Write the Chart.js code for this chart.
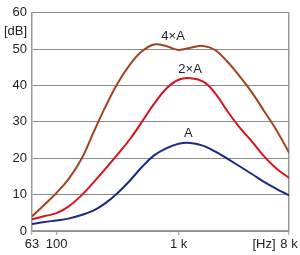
<!DOCTYPE html>
<html>
<head>
<meta charset="utf-8">
<script src="https://cdn.jsdelivr.net/npm/chart.js@4/dist/chart.umd.min.js"></script>
<style>
    html, body { margin: 0; padding: 0; background: #fff; }
    #wrap { width: 300px; height: 255px; }
</style>
</head>
<body>
<div id="wrap"><canvas id="levelChart"></canvas></div>
<script>
// Third-octave band centre frequencies [Hz]
const freqs = [63, 80, 100, 125, 160, 200, 250, 315, 400, 500, 630, 800,
               1000, 1250, 1600, 2000, 2500, 3150, 4000, 5000, 6300, 8000];

// Levels [dB]
const level4xA = [4, 7.3, 10.5, 14.2, 19.8, 27, 34, 40.5, 45.8, 49.4, 51.3, 50.8,
                  49.8, 50.4, 50.9, 49.7, 46.6, 42.6, 38, 33, 27.8, 21.6];
const level2xA = [3.2, 4.1, 4.9, 6.7, 9.8, 13.3, 17, 21, 25.3, 30, 35, 39.3,
                  41.6, 42, 41, 37.8, 33, 28.5, 24.5, 20.5, 17.2, 14.6];
const levelA = [1.9, 2.5, 2.9, 3.4, 4.4, 5.6, 7.6, 10.4, 13.9, 17.6, 20.8, 22.8,
                24, 24.2, 23.4, 21.8, 19.9, 17.8, 15.6, 13.5, 11.6, 9.8];

// Axis ticks ("[Hz]" sits on its own tick just left of 8 k)
const xTicks = [63, 100, 1000, 5000, 8000];
const xTickLabels = ['63', '100', '1 k', '[Hz]', '8 k'];
const yTicks = [0, 10, 20, 30, 40, 50, 55, 60];
const yTickLabels = ['0', '10', '20', '30', '40', '50', '[dB]', '60'];

// Curve names and where they sit
const curveNames = ['4\u00d7A', '2\u00d7A', 'A'];
const nameFreqs = [900, 1240, 1200];
const nameLevels = [53.5, 44.3, 26.8];

const FONT = "'Liberation Sans Narrow', 'Arial Narrow', 'Liberation Sans', sans-serif";
const GRID = '#8a8a8a';

function toPoints(values) {
    return freqs.map((f, i) => ({ x: f, y: values[i] }));
}

// Draws the curve names inside the plot
const curveNamePlugin = {
    id: 'curveNames',
    afterDatasetsDraw(chart) {
        const ctx = chart.ctx;
        const xs = chart.scales.x;
        const ys = chart.scales.y;
        ctx.save();
        ctx.font = '13px ' + FONT;
        ctx.fillStyle = '#222';
        ctx.textAlign = 'center';
        ctx.textBaseline = 'middle';
        curveNames.forEach((name, i) => {
            ctx.fillText(name, xs.getPixelForValue(nameFreqs[i]), ys.getPixelForValue(nameLevels[i]));
        });
        ctx.restore();
    }
};

const ctx = document.getElementById('levelChart').getContext('2d');
new Chart(ctx, {
    type: 'line',
    data: {
        datasets: [
            { data: toPoints(level4xA), borderColor: '#a3421f' },
            { data: toPoints(level2xA), borderColor: '#d9121c' },
            { data: toPoints(levelA), borderColor: '#1b2a86' }
        ]
    },
    options: {
        responsive: true,
        maintainAspectRatio: false,
        animation: false,
        layout: { padding: { top: 9, right: 11, bottom: 0, left: 0 } },
        elements: {
            line: { borderWidth: 2, tension: 0.4, fill: false },
            point: { radius: 0 }
        },
        plugins: {
            legend: { display: false },
            tooltip: { enabled: false }
        },
        scales: {
            x: {
                type: 'logarithmic',
                min: 63,
                max: 8000,
                afterBuildTicks: axis => { axis.ticks = xTicks.map(v => ({ value: v })); },
                afterFit: axis => { axis.height = 24; },
                ticks: {
                    autoSkip: false,
                    maxRotation: 0,
                    padding: 2,
                    color: '#222',
                    font: { family: FONT, size: 13 },
                    callback: (value, index) => xTickLabels[index]
                },
                grid: {
                    drawOnChartArea: true,
                    tickLength: 4,
                    color: c => (c.tick && c.tick.value === 8000) ? '#999' : 'rgba(0,0,0,0)',
                    lineWidth: 1.5,
                    tickColor: c => (c.tick && c.tick.value === 5000) ? 'rgba(0,0,0,0)' : '#999',
                    tickWidth: 1
                },
                border: { color: '#999', width: 1.5 }
            },
            y: {
                min: 0,
                max: 60,
                afterBuildTicks: axis => { axis.ticks = yTicks.map(v => ({ value: v })); },
                afterFit: axis => { axis.width = 32; },
                ticks: {
                    padding: 5,
                    color: '#222',
                    font: { family: FONT, size: 13 },
                    callback: (value, index) => yTickLabels[index]
                },
                grid: {
                    drawTicks: false,
                    color: c => (c.tick && c.tick.value === 55) ? 'rgba(0,0,0,0)' : GRID,
                    lineWidth: 1
                },
                border: { color: '#999', width: 1.5 }
            }
        }
    },
    plugins: [curveNamePlugin]
});
</script>
</body>
</html>
